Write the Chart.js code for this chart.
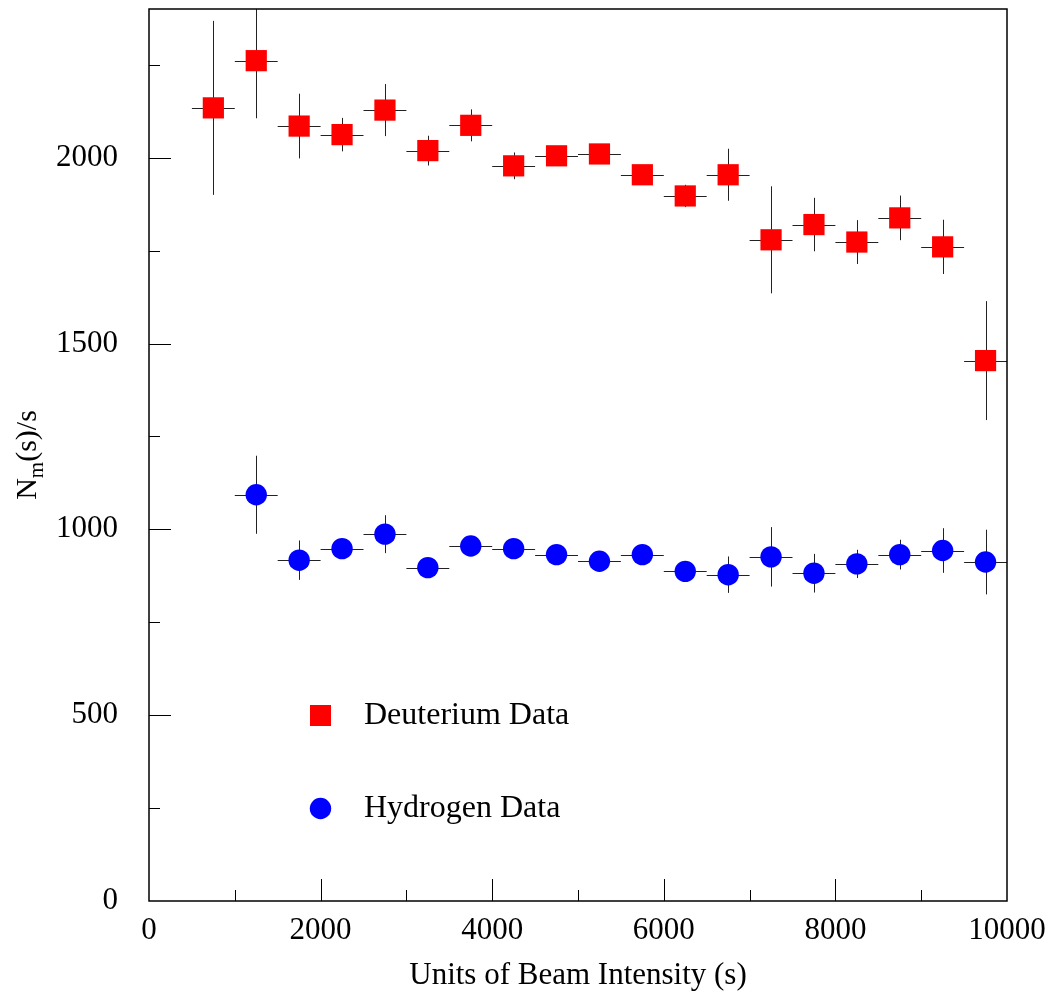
<!DOCTYPE html>
<html>
<head>
<meta charset="utf-8">
<script src="https://cdn.jsdelivr.net/npm/chart.js@4"></script>
<style>
    html, body { margin: 0; padding: 0; background: #fff; }
    #wrap { width: 1053px; height: 994px; }
</style>
</head>
<body>
<div id="wrap"><canvas id="beamChart"></canvas></div>
<script>
// bin centres (s) and half bin width
const deuteriumX = [750, 1250, 1750, 2250, 2750, 3250, 3750, 4250, 4750, 5250, 5750, 6250, 6750, 7250, 7750, 8250, 8750, 9250, 9750];
const deuteriumY = [2134, 2261, 2085, 2062, 2128, 2019, 2087, 1978, 2005, 2010, 1954, 1897, 1954, 1779, 1820, 1773, 1838, 1760, 1454];
const deuteriumErr = [234, 155, 87, 45, 70, 40, 43, 36, 22, 20, 22, 30, 70, 144, 72, 59, 60, 73, 160];

const hydrogenX = [1250, 1750, 2250, 2750, 3250, 3750, 4250, 4750, 5250, 5750, 6250, 6750, 7250, 7750, 8250, 8750, 9250, 9750];
const hydrogenY = [1093, 917, 948, 987, 897, 955, 948, 932, 914, 932, 887, 878, 926, 882, 907, 932, 943, 912];
const hydrogenErr = [105, 53, 20, 51, 15, 20, 20, 15, 15, 15, 12, 49, 80, 52, 38, 40, 60, 87];

const binHalfWidth = 250;

const xTickValues = [0, 2000, 4000, 6000, 8000, 10000];
const yTickValues = [0, 500, 1000, 1500, 2000];

const seriesNames = ['Deuterium Data', 'Hydrogen Data'];

const serif = "'Liberation Serif', 'DejaVu Serif', serif";

function toPoints(xs, ys, errs) {
    return xs.map((x, i) => ({ x: x, y: ys[i], err: errs[i] }));
}

// vertical + horizontal error bars, drawn under the markers
const errorBars = {
    id: 'errorBars',
    beforeDatasetsDraw(chart) {
        const { ctx, chartArea, scales: { x, y } } = chart;
        ctx.save();
        ctx.beginPath();
        ctx.rect(chartArea.left, chartArea.top, chartArea.right - chartArea.left, chartArea.bottom - chartArea.top);
        ctx.clip();
        ctx.strokeStyle = '#222';
        ctx.lineWidth = 1;
        chart.data.datasets.forEach(ds => {
            ds.data.forEach(p => {
                const px = Math.round(x.getPixelForValue(p.x)) + 0.5;
                const py = Math.round(y.getPixelForValue(p.y)) + 0.5;
                ctx.beginPath();
                ctx.moveTo(px, y.getPixelForValue(p.y + p.err));
                ctx.lineTo(px, y.getPixelForValue(p.y - p.err));
                ctx.moveTo(x.getPixelForValue(p.x - binHalfWidth), py);
                ctx.lineTo(x.getPixelForValue(p.x + binHalfWidth), py);
                ctx.stroke();
            });
        });
        ctx.restore();
    }
};

// frame, inward ticks, legend and y title
const frame = {
    id: 'frame',
    afterDraw(chart) {
        const { ctx, chartArea: a, scales: { x, y } } = chart;
        ctx.save();
        ctx.strokeStyle = '#000';
        ctx.lineWidth = 1.5;
        ctx.strokeRect(a.left, a.top, a.right - a.left, a.bottom - a.top);

        ctx.lineWidth = 1;
        ctx.beginPath();
        for (let v = 1000; v < 10000; v += 1000) {
            const px = Math.round(x.getPixelForValue(v)) + 0.5;
            const len = v % 2000 === 0 ? 22 : 11;
            ctx.moveTo(px, a.bottom);
            ctx.lineTo(px, a.bottom - len);
        }
        for (let v = 250; v < 2400; v += 250) {
            const py = Math.round(y.getPixelForValue(v)) + 0.5;
            const len = v % 500 === 0 ? 22 : 11;
            ctx.moveTo(a.left, py);
            ctx.lineTo(a.left + len, py);
        }
        ctx.stroke();

        // legend
        ctx.fillStyle = '#ff0000';
        ctx.fillRect(310, 705, 21, 21);
        ctx.fillStyle = '#0000ff';
        ctx.beginPath();
        ctx.arc(320.5, 808.5, 10.7, 0, Math.PI * 2);
        ctx.fill();
        ctx.fillStyle = '#000';
        ctx.font = '32px ' + serif;
        ctx.textBaseline = 'middle';
        ctx.textAlign = 'left';
        ctx.fillText(seriesNames[0], 364, 716);
        ctx.fillText(seriesNames[1], 364, 809);

        // y title N_m(s)/s
        ctx.translate(27, 455);
        ctx.rotate(-Math.PI / 2);
        ctx.textBaseline = 'alphabetic';
        ctx.font = '30px ' + serif;
        const wN = ctx.measureText('N').width;
        ctx.font = '21px ' + serif;
        const wM = ctx.measureText('m').width;
        ctx.font = '30px ' + serif;
        const wRest = ctx.measureText('(s)/s').width;
        const start = -(wN + wM + wRest) / 2;
        const base = 9;
        ctx.fillText('N', start, base);
        ctx.font = '21px ' + serif;
        ctx.fillText('m', start + wN, base + 7);
        ctx.font = '30px ' + serif;
        ctx.fillText('(s)/s', start + wN + wM, base);
        ctx.restore();
    }
};

function initialize() {
    const ctx = document.getElementById('beamChart').getContext('2d');
    new Chart(ctx, {
        type: 'scatter',
        data: {
            datasets: [{
                label: seriesNames[0],
                data: toPoints(deuteriumX, deuteriumY, deuteriumErr),
                pointStyle: 'rect',
                pointRadius: 15,
                backgroundColor: '#ff0000',
                borderWidth: 0
            }, {
                label: seriesNames[1],
                data: toPoints(hydrogenX, hydrogenY, hydrogenErr),
                pointStyle: 'circle',
                pointRadius: 10.7,
                backgroundColor: '#0000ff',
                borderWidth: 0
            }]
        },
        options: {
            responsive: true,
            maintainAspectRatio: false,
            animation: false,
            layout: { autoPadding: false, padding: { top: 9, right: 46, left: 0, bottom: 0 } },
            plugins: {
                legend: { display: false },
                tooltip: { enabled: false }
            },
            scales: {
                x: {
                    type: 'linear',
                    min: 0,
                    max: 10000,
                    grid: { display: false },
                    border: { display: false },
                    afterBuildTicks: s => { s.ticks = xTickValues.map(v => ({ value: v })); },
                    afterFit: s => {
                        s.height = 93;
                        s.paddingLeft = 0;
                        s.paddingRight = 0;
                    },
                    ticks: {
                        maxRotation: 0,
                        padding: 3,
                        color: '#000',
                        font: { family: serif, size: 31 },
                        callback: v => String(v)
                    },
                    title: {
                        display: true,
                        text: 'Units of Beam Intensity (s)',
                        color: '#000',
                        padding: { top: 0, bottom: 0 },
                        font: { family: serif, size: 31 }
                    }
                },
                y: {
                    type: 'linear',
                    min: 0,
                    max: 2400,
                    grid: { display: false },
                    border: { display: false },
                    afterBuildTicks: s => { s.ticks = yTickValues.map(v => ({ value: v })); },
                    afterFit: s => {
                        s.width = 149;
                        s.paddingTop = 0;
                        s.paddingBottom = 0;
                    },
                    ticks: {
                        padding: 23,
                        color: '#000',
                        font: { family: serif, size: 31 },
                        callback: v => String(v)
                    }
                }
            }
        },
        plugins: [errorBars, frame]
    });
}

window.addEventListener('load', initialize);
</script>
</body>
</html>
